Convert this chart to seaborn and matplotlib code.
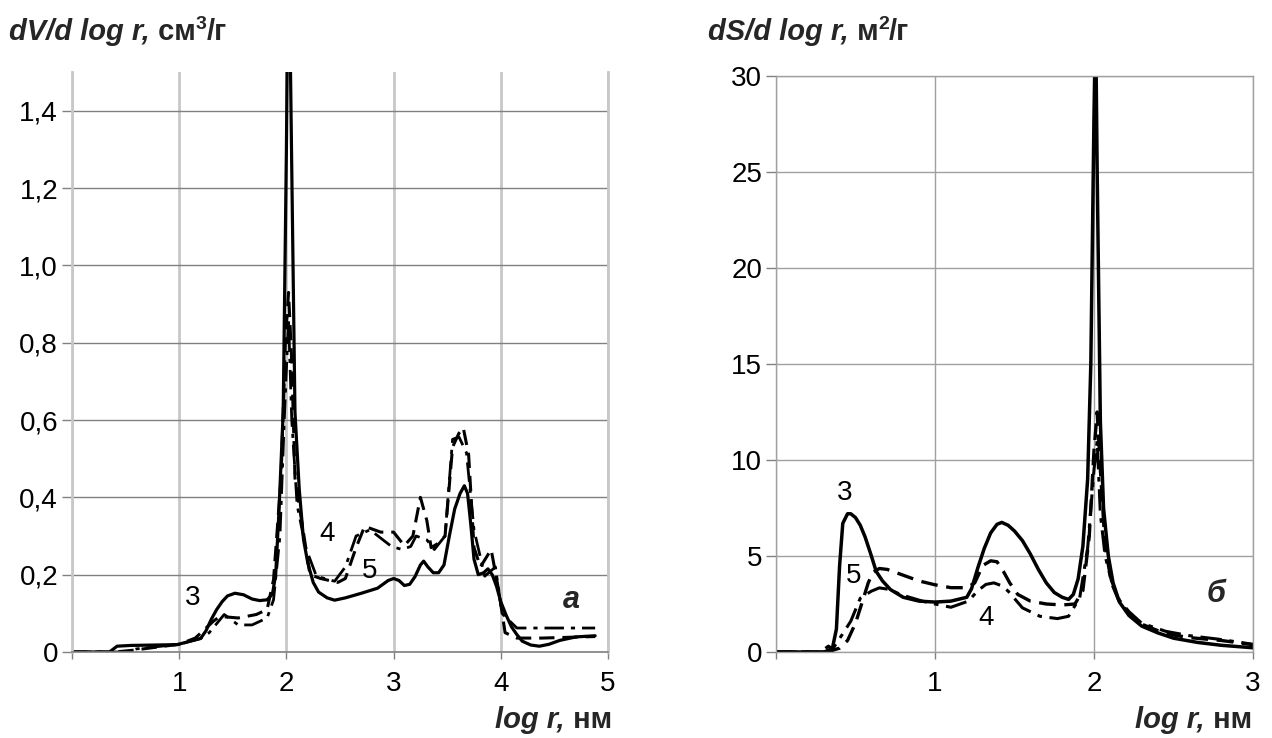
import matplotlib
matplotlib.use("Agg")
import matplotlib.pyplot as plt
import seaborn as sns

# ---------------- data: panel "а" (dV/d log r) ----------------
x_a_3 = [0, 0.35, 0.42, 0.55, 0.98, 1.2, 1.25, 1.3, 1.35, 1.4, 1.45, 1.52, 1.6, 1.68, 1.75,
         1.82, 1.87, 1.9, 1.93, 1.97, 2.0, 2.02, 2.05, 2.08, 2.12, 2.16, 2.2, 2.25, 2.3, 2.38,
         2.45, 2.55, 2.7, 2.85, 2.95, 3.0, 3.05, 3.1, 3.15, 3.2, 3.25, 3.28, 3.32, 3.37, 3.42,
         3.47, 3.52, 3.57, 3.62, 3.66, 3.69, 3.72, 3.75, 3.79, 3.84, 3.88, 3.92, 3.96, 4.0, 4.05,
         4.1, 4.15, 4.2, 4.28, 4.36, 4.45, 4.55, 4.7, 4.88]
y_a_3 = [0, 0, 0.015, 0.017, 0.019, 0.035, 0.055, 0.085, 0.11, 0.13, 0.145, 0.152, 0.148, 0.137, 0.133,
         0.135, 0.15, 0.2, 0.36, 0.62, 1.3, 1.9, 1.25, 0.62, 0.42, 0.29, 0.23, 0.18, 0.155, 0.14,
         0.134, 0.14, 0.152, 0.165, 0.185, 0.19, 0.185, 0.172, 0.175, 0.195, 0.225, 0.235, 0.22, 0.205, 0.205,
         0.225, 0.3, 0.37, 0.41, 0.43, 0.41, 0.33, 0.24, 0.2, 0.205, 0.215, 0.2, 0.17, 0.13, 0.095,
         0.065, 0.045, 0.028, 0.018, 0.015, 0.02, 0.03, 0.039, 0.042]

x_a_4 = [0, 0.4, 0.55, 1.0, 1.15, 1.32, 1.38, 1.55, 1.72, 1.82, 1.88, 1.95, 1.99, 2.02, 2.05,
         2.08, 2.22, 2.32, 2.48, 2.55, 2.65, 2.73, 2.88, 3.0, 3.1, 3.18, 3.25, 3.31, 3.35, 3.41,
         3.48, 3.55, 3.61, 3.65, 3.7, 3.75, 3.81, 3.91, 3.98, 4.04, 4.15, 4.38, 4.88]
y_a_4 = [0, 0, 0.004, 0.02, 0.036, 0.08, 0.092, 0.088, 0.097, 0.11, 0.187, 0.45, 0.8, 0.93, 0.75,
         0.45, 0.2, 0.19, 0.18, 0.19, 0.27, 0.325, 0.31, 0.31, 0.275, 0.3, 0.4, 0.34, 0.27, 0.28,
         0.3, 0.53, 0.566, 0.58, 0.51, 0.27, 0.22, 0.265, 0.16, 0.05, 0.036, 0.036, 0.04]

x_a_5 = [0, 0.5, 0.6, 1.0, 1.2, 1.28, 1.42, 1.55, 1.68, 1.82, 1.88, 1.94, 1.98, 2.02, 2.05,
         2.1, 2.18, 2.28, 2.45, 2.55, 2.65, 2.78, 2.98, 3.08, 3.16, 3.21, 3.31, 3.38, 3.48, 3.55,
         3.61, 3.68, 3.75, 3.85, 3.95, 4.01, 4.15, 4.88]
y_a_5 = [0, 0, 0.008, 0.02, 0.035, 0.05, 0.097, 0.07, 0.07, 0.088, 0.135, 0.3, 0.6, 0.86, 0.6,
         0.38, 0.27, 0.196, 0.183, 0.22, 0.3, 0.316, 0.273, 0.265, 0.273, 0.3, 0.29, 0.265, 0.3, 0.55,
         0.556, 0.515, 0.316, 0.196, 0.22, 0.1, 0.062, 0.062]

# ---------------- data: panel "б" (dS/d log r) ----------------
x_b_3 = [0, 0.35, 0.38, 0.4, 0.42, 0.45, 0.47, 0.5, 0.53, 0.56, 0.6, 0.63, 0.67, 0.72, 0.8,
         0.9, 1.0, 1.1, 1.2, 1.23, 1.27, 1.31, 1.35, 1.39, 1.42, 1.46, 1.5, 1.55, 1.6, 1.65,
         1.7, 1.75, 1.8, 1.84, 1.87, 1.9, 1.93, 1.96, 1.98, 2.0, 2.01, 2.02, 2.04, 2.06, 2.09,
         2.12, 2.16, 2.22, 2.3, 2.4, 2.5, 2.65, 2.8, 3.0]
y_b_3 = [0, 0, 1.2, 4.5, 6.7, 7.2, 7.2, 7.0, 6.6, 6.0, 5.0, 4.2, 3.7, 3.25, 2.85,
         2.65, 2.6, 2.65, 2.85, 3.3, 4.4, 5.4, 6.2, 6.65, 6.75, 6.6, 6.3, 5.8, 5.1, 4.3,
         3.6, 3.1, 2.85, 2.74, 3.0, 3.8, 5.5, 9.0, 15.0, 28.0, 33.0, 25.0, 12.0, 7.5, 5.0,
         3.6, 2.6, 1.9, 1.35, 1.0, 0.72, 0.5, 0.35, 0.22]

x_b_5 = [0, 0.28, 0.33, 0.36, 0.4, 0.45, 0.5, 0.55, 0.58, 0.61, 0.65, 0.7, 0.8, 0.9, 1.0,
         1.1, 1.2, 1.25, 1.3, 1.35, 1.39, 1.43, 1.47, 1.52, 1.6, 1.7, 1.8, 1.88, 1.93, 1.97,
         2.0, 2.02, 2.04, 2.07, 2.11, 2.16, 2.22, 2.3, 2.45, 2.6, 2.8, 3.0]
y_b_5 = [0, 0, 0.3, 0.1, 0.2, 0.6, 1.5, 2.8, 3.6, 4.15, 4.35, 4.3, 4.0, 3.7, 3.5,
         3.35, 3.35, 3.6, 4.5, 4.75, 4.7, 4.2, 3.6, 3.0, 2.65, 2.5, 2.45, 2.5, 3.2, 6.0,
         10.5, 12.5, 9.5, 5.5, 3.6, 2.6, 2.0, 1.45, 0.95, 0.75, 0.6, 0.38]

x_b_4 = [0, 0.3, 0.36, 0.4, 0.47, 0.53, 0.6, 0.65, 0.72, 0.78, 0.92, 1.0, 1.1, 1.21, 1.27,
         1.32, 1.37, 1.42, 1.46, 1.55, 1.66, 1.77, 1.84, 1.91, 1.96, 2.0, 2.02, 2.04, 2.07, 2.11,
         2.16, 2.22, 2.3, 2.45, 2.6, 2.8, 3.0]
y_b_4 = [0, 0, 0.2, 0.7, 1.6, 2.8, 3.17, 3.34, 3.25, 3.0, 2.65, 2.5, 2.33, 2.65, 3.2,
         3.52, 3.6, 3.45, 3.17, 2.3, 1.86, 1.74, 1.86, 2.82, 5.4, 9.5, 11.0, 7.2, 5.0, 3.7,
         2.7, 2.1, 1.5, 1.08, 0.85, 0.65, 0.4]

# ticks
x_ticks_a = [0, 1, 2, 3, 4, 5]
x_tick_labels_a = ["", "1", "2", "3", "4", "5"]
y_ticks_a = [0, 0.2, 0.4, 0.6, 0.8, 1.0, 1.2, 1.4]
y_tick_labels_a = ["0", "0,2", "0,4", "0,6", "0,8", "1,0", "1,2", "1,4"]
x_ticks_b = [0, 1, 2, 3]
x_tick_labels_b = ["", "1", "2", "3"]
y_ticks_b = [0, 5, 10, 15, 20, 25, 30]
y_tick_labels_b = ["0", "5", "10", "15", "20", "25", "30"]

# ---------------- styling ----------------
sns.set_theme(style="white")
plt.rcParams["font.family"] = ["Liberation Sans", "DejaVu Sans"]
plt.rcParams["lines.solid_joinstyle"] = "round"
plt.rcParams["lines.dash_joinstyle"] = "round"

W, H = 1272, 738
fig = plt.figure(figsize=(W / 100, H / 100), dpi=100)
ax1 = fig.add_axes([72 / W, 86 / H, 536 / W, 580 / H])
ax2 = fig.add_axes([776 / W, 86 / H, 477 / W, 576 / H])

SOLID = "-"
DASH = (0, (5, 2.6))
DASHDOT = (0, (7, 2.5, 1.5, 2.5))


def draw(ax, x, y, ls, lw):
    sns.lineplot(x=x, y=y, ax=ax, color="black", linestyle=ls, linewidth=lw,
                 estimator=None, sort=False, clip_on=True)


draw(ax1, x_a_5, y_a_5, DASHDOT, 2.0)
draw(ax1, x_a_4, y_a_4, DASH, 2.2)
draw(ax1, x_a_3, y_a_3, SOLID, 2.3)

draw(ax2, x_b_4, y_b_4, DASHDOT, 2.2)
draw(ax2, x_b_5, y_b_5, DASH, 2.4)
draw(ax2, x_b_3, y_b_3, SOLID, 2.5)

# panel a axes
ax1.set_xlim(0, 5)
ax1.set_ylim(0, 1.5)
ax1.set_xticks(x_ticks_a)
ax1.set_xticklabels(x_tick_labels_a)
ax1.set_yticks(y_ticks_a)
ax1.set_yticklabels(y_tick_labels_a)
ax1.set_axisbelow(True)
ax1.grid(axis="x", color="#c8c8c8", linewidth=2)
ax1.grid(axis="y", color="#808080", linewidth=1)
ax1.spines["top"].set_visible(False)
ax1.spines["right"].set_color("#c8c8c8")
ax1.spines["right"].set_linewidth(2)
ax1.spines["left"].set_color("#c8c8c8")
ax1.spines["left"].set_linewidth(2)
ax1.spines["bottom"].set_color("#808080")
ax1.spines["bottom"].set_linewidth(1.2)

# panel b axes
ax2.set_xlim(0, 3)
ax2.set_ylim(0, 30)
ax2.set_xticks(x_ticks_b)
ax2.set_xticklabels(x_tick_labels_b)
ax2.set_yticks(y_ticks_b)
ax2.set_yticklabels(y_tick_labels_b)
ax2.set_axisbelow(True)
ax2.grid(color="#a0a0a0", linewidth=1)
for s in ["top", "right", "left", "bottom"]:
    ax2.spines[s].set_color("#a0a0a0")
    ax2.spines[s].set_linewidth(1)

for ax in (ax1, ax2):
    ax.set_xlabel("")
    ax.set_ylabel("")
    ax.tick_params(axis="both", which="major", bottom=True, left=True,
                   direction="out", color="#808080", width=1, labelsize=20,
                   labelcolor="black")
    ax.tick_params(axis="y", length=7, pad=3)
    ax.tick_params(axis="x", length=5, pad=9)

# curve labels
num_kw = dict(fontsize=20, ha="center", va="center", color="black")
ax1.text(1.13, 0.14, "3", **num_kw)
ax1.text(2.38, 0.305, "4", **num_kw)
ax1.text(2.78, 0.209, "5", **num_kw)
ax1.text(4.66, 0.135, "а", fontsize=22, fontweight="bold", fontstyle="italic",
         ha="center", va="center")

ax2.text(0.43, 8.3, "3", **num_kw)
ax2.text(0.49, 3.95, "5", **num_kw)
ax2.text(1.32, 1.78, "4", **num_kw)
ax2.text(2.77, 3.0, "б", fontsize=22, fontweight="bold", fontstyle="italic",
         ha="center", va="center")


# axis titles (top) built from pieces
def top_title(ax, x_px, main, unit1, sup, unit2):
    t1 = fig.text(x_px / W, 1 - 40 / H, main, fontsize=21, fontweight="bold",
                  fontstyle="italic", ha="left", va="baseline")
    t2 = ax.annotate(unit1, xy=(1, 0), xycoords=t1, fontsize=21, fontweight="bold",
                     ha="left", va="bottom", annotation_clip=False)
    t3 = ax.annotate(sup, xy=(1, 0.48), xycoords=t2, fontsize=14, fontweight="bold",
                     ha="left", va="bottom", annotation_clip=False)
    ax.annotate(unit2, xy=(1, 0), xycoords=(t3, t2), fontsize=21, fontweight="bold",
                ha="left", va="bottom", annotation_clip=False)


top_title(ax1, 9, "dV/d log r,", " см", "3", "/г")
top_title(ax2, 708, "dS/d log r,", " м", "2", "/г")


# x labels (bottom right)
def bottom_label(ax, x_px):
    t_nm = fig.text(x_px / W, 1 - 728 / H, " нм", fontsize=21, fontweight="bold",
                    ha="right", va="baseline")
    ax.annotate("log r,", xy=(0, 0), xycoords=t_nm, fontsize=21, fontweight="bold",
                fontstyle="italic", ha="right", va="bottom", annotation_clip=False)


bottom_label(ax1, 612)
bottom_label(ax2, 1252)

fig.savefig("out.png", dpi=100, facecolor="white")
